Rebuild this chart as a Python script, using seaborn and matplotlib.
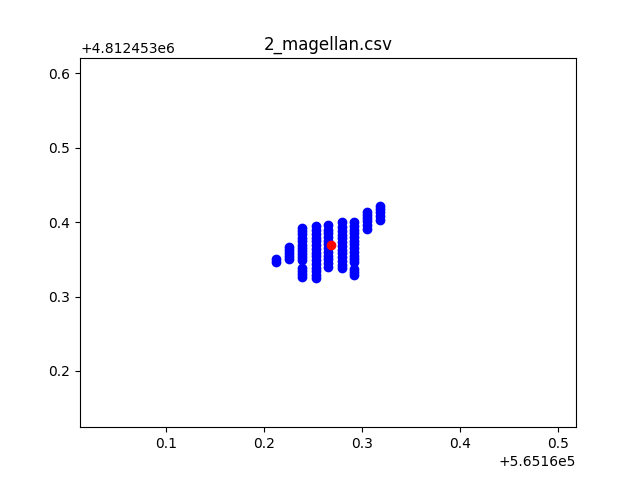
import numpy as np
import pandas as pd
import matplotlib
matplotlib.use("Agg")
import matplotlib.pyplot as plt
import seaborn as sns

# Offsets (easting / northing base)
x_base = 565160.0
y_base = 4812453.0

# Column x positions (fraction above base)
col_x = [0.2123, 0.2259, 0.2386, 0.2529, 0.2658, 0.2795, 0.2924, 0.3056, 0.3186]

# y values (fraction above base) for points in each column
col_y = [
    [0.347, 0.351],
    [0.350, 0.354, 0.358, 0.362, 0.3667],
    [0.326, 0.330, 0.334, 0.3385, 0.349, 0.353, 0.357, 0.361, 0.365, 0.369, 0.374, 0.379, 0.384, 0.388, 0.3927],
    [0.3245, 0.329, 0.334, 0.339, 0.344, 0.349, 0.354, 0.359, 0.364, 0.369, 0.374, 0.379, 0.384, 0.389, 0.3945],
    [0.340, 0.345, 0.350, 0.355, 0.360, 0.365, 0.370, 0.375, 0.380, 0.385, 0.390, 0.396],
    [0.3386, 0.343, 0.348, 0.353, 0.358, 0.363, 0.368, 0.373, 0.378, 0.383, 0.388, 0.393, 0.3995],
    [0.3296, 0.3335, 0.3375, 0.347, 0.351, 0.355, 0.360, 0.365, 0.370, 0.375, 0.380, 0.385, 0.390, 0.395, 0.4004],
    [0.391, 0.396, 0.401, 0.406, 0.410, 0.413],
    [0.4035, 0.408, 0.413, 0.417, 0.421],
]

# Highlighted (mean) point
center_x = 0.2685
center_y = 0.3687

xs, ys = [], []
for cx, yl in zip(col_x, col_y):
    for yv in yl:
        xs.append(x_base + cx)
        ys.append(y_base + yv)
df = pd.DataFrame({"x": xs, "y": ys})

fig, ax = plt.subplots(figsize=(6.4, 4.8), dpi=100)
sns.scatterplot(data=df, x="x", y="y", color="blue", s=36, edgecolor="blue",
                linewidth=1.0, ax=ax)
sns.scatterplot(x=[x_base + center_x], y=[y_base + center_y], color="red", s=36,
                edgecolor="red", linewidth=1.0, ax=ax)

ax.set_xlim(df["x"].min() - 0.2, df["x"].max() + 0.2)
ax.set_ylim(df["y"].min() - 0.2, df["y"].max() + 0.2)
ax.set_xlabel("")
ax.set_ylabel("")
ax.set_title("2_magellan.csv")

fig.savefig("out.png", dpi=100)
